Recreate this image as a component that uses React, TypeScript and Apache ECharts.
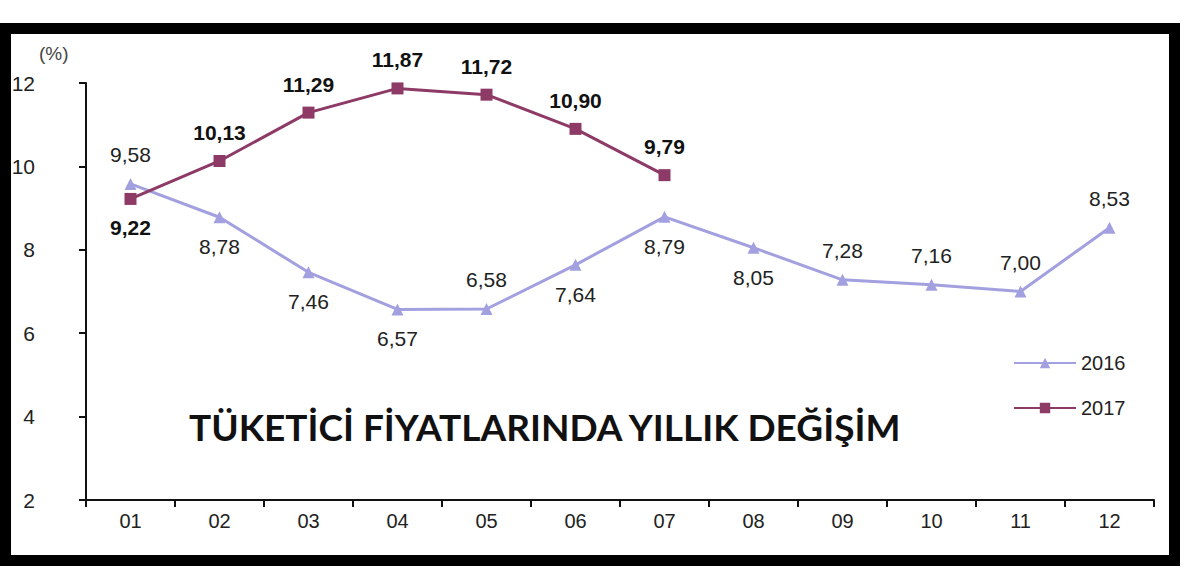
import { useEffect, useRef } from "react";
import * as echarts from "echarts";

const months = ["01", "02", "03", "04", "05", "06", "07", "08", "09", "10", "11", "12"];
const values2016 = [9.58, 8.78, 7.46, 6.57, 6.58, 7.64, 8.79, 8.05, 7.28, 7.16, 7.0, 8.53];
const values2017 = [9.22, 10.13, 11.29, 11.87, 11.72, 10.9, 9.79];
const side2016 = ["top", "bottom", "bottom", "bottom", "top", "bottom", "bottom", "bottom", "top", "top", "top", "top"];
const side2017 = ["bottom", "top", "top", "top", "top", "top", "top"];
const chartTitle = "TÜKETİCİ FİYATLARINDA YILLIK DEĞİŞİM";

const fmt = (v: number) => v.toFixed(2).replace(".", ",");

export default function App() {
  const chartRef = useRef<HTMLDivElement>(null);

  useEffect(() => {
    if (!chartRef.current) return;
    document.body.style.margin = "0";
    const chart = echarts.init(chartRef.current, null, { renderer: "svg" });

    const option: echarts.EChartsOption = {
      animation: false,
      backgroundColor: "#fff",
      textStyle: { fontFamily: "Liberation Sans, Arial, sans-serif" },
      grid: { left: 86, right: 46, top: 83, bottom: 78 },
      legend: {
        orient: "vertical",
        left: 1008,
        top: 348,
        itemWidth: 62,
        itemHeight: 13,
        itemGap: 25,
        textStyle: { fontSize: 20, color: "#222" },
        data: ["2016", "2017"],
      },
      xAxis: {
        type: "category",
        data: months,
        boundaryGap: true,
        axisLine: { lineStyle: { color: "#111", width: 2 } },
        axisTick: { show: true, length: 7, lineStyle: { color: "#111", width: 2 } },
        axisLabel: { fontSize: 20, color: "#222", margin: 11 },
      },
      yAxis: {
        type: "value",
        min: 2,
        max: 12,
        interval: 2,
        axisLine: { show: true, lineStyle: { color: "#111", width: 2 } },
        axisTick: { show: true, length: 7, lineStyle: { color: "#111", width: 2 } },
        axisLabel: { fontSize: 21, color: "#222", margin: 51 },
        splitLine: { show: false },
      },
      graphic: [
        {
          type: "rect",
          shape: { x: 5.5, y: 28.5, width: 1169, height: 532 },
          style: { fill: "none", stroke: "#000", lineWidth: 11 },
          silent: true,
        },
        {
          type: "text",
          left: 39,
          top: 44,
          style: { text: "(%)", fontSize: 19, fill: "#444", fontFamily: "Liberation Sans, Arial, sans-serif" },
        },
        {
          type: "text",
          left: 189,
          top: 408,
          style: {
            text: chartTitle,
            fontSize: 37,
            fontWeight: "bold",
            fill: "#111",
            fontFamily: "Lato, sans-serif",
          },
        },
      ],
      series: [
        {
          name: "2016",
          type: "line",
          data: values2016.map((v, i) => ({ value: v, label: { position: side2016[i] as any } })),
          symbol: "triangle",
          symbolSize: 12,
          color: "#a3a0e0",
          lineStyle: { width: 3, color: "#a3a0e0" },
          label: {
            show: true,
            fontSize: 21,
            color: "#222",
            distance: 13,
            formatter: (p: any) => fmt(p.value),
          },
        },
        {
          name: "2017",
          type: "line",
          data: values2017.map((v, i) => ({ value: v, label: { position: side2017[i] as any } })),
          symbol: "rect",
          symbolSize: 12,
          color: "#8e3a66",
          lineStyle: { width: 3, color: "#8e3a66" },
          label: {
            show: true,
            fontSize: 21,
            fontWeight: "bold",
            color: "#111",
            distance: 12,
            formatter: (p: any) => fmt(p.value),
          },
        },
      ],
    };
    chart.setOption(option);

    return () => {
      chart.dispose();
    };
  }, []);

  return <div ref={chartRef} style={{ width: 1200, height: 578 }} />;
}
